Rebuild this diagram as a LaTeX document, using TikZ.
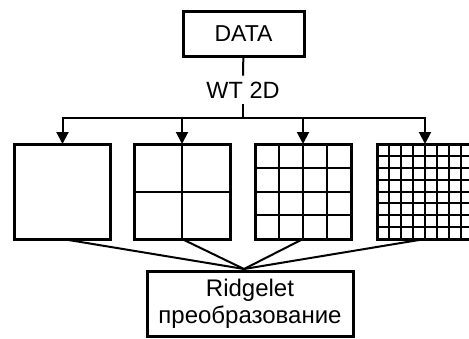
\documentclass[tikz,border=0pt]{standalone}
\usepackage{fontspec}
\setmainfont{Liberation Sans}
\usetikzlibrary{arrows.meta}
\usetikzlibrary{calc}

\tikzset{
  box/.style={draw,line width=3pt,inner sep=0pt,outer sep=0pt},
  panel/.style={box,minimum width=96pt,minimum height=95pt},
  conn/.style={line width=2pt},
  arr/.style={conn,-{Triangle[length=12pt,width=12pt]}},
  gridline/.style={line width=2pt}
}

\begin{document}
\begin{tikzpicture}[x=1pt,y=-1pt]
\useasboundingbox (0,0) rectangle (469,338);
\clip (0,0) rectangle (469,338);
\node[box,minimum width=121pt,minimum height=45pt,font=\fontsize{23}{27}\selectfont] (data) at (243.5,33.5) {DATA};
\node[font=\fontsize{23.5}{28}\selectfont,inner sep=6pt] (wt) at (243,90) {WT 2D};
\coordinate (bus) at (243,118);
\draw[conn] (data) -- (wt);
\draw[conn] (wt) -- (bus);

% wavelet panels
\node[panel] (w1) at (62.5,191.5) {};
\node[panel] (w2) at (182,191.5) {};
\node[panel] (w3) at (303,191.5) {};
\node[panel] (w4) at (425,191.5) {};
\foreach \p/\n in {w2/2,w3/4,w4/8} {
  \pgfmathtruncatemacro\m{\n-1}
  \foreach \i in {1,...,\m} {
    \draw[gridline] ($(\p.north west)!\i/\n!(\p.north east)$) -- ($(\p.south west)!\i/\n!(\p.south east)$);
    \draw[gridline] ($(\p.north west)!\i/\n!(\p.south west)$) -- ($(\p.north east)!\i/\n!(\p.south east)$);
  }
}
\foreach \p in {w1,w2,w3,w4}
  \draw[arr] (bus) -| (\p.north);

\node[box,minimum width=206pt,minimum height=65pt,align=center,font=\fontsize{24}{27}\selectfont] (rt) at (250,303.5) {Ridgelet\\преобразование};
\coordinate (hub) at (244,269);
\foreach \p in {w1,w2,w3,w4}
  \draw[conn] (\p.south) -- (hub);
\end{tikzpicture}
\end{document}
